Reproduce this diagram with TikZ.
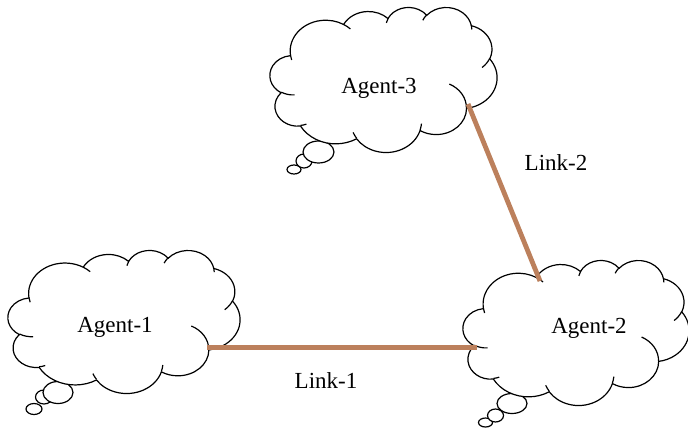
\documentclass[tikz,border=0pt]{standalone}
\usepackage{fontspec}
\setmainfont{Liberation Serif}
\definecolor{linkc}{RGB}{188,128,92}
\tikzset{
  wc/.code args={#1/#2/#3/#4}{%
    \pgfmathsetmacro\wcts{atan2((#1)*sin(#3),(#2)*cos(#3))}%
    \pgfmathsetmacro\wcte{atan2((#1)*sin((#3)+(#4)),(#2)*cos((#3)+(#4)))}%
    \pgfmathsetmacro\wctd{\wcte-\wcts}%
    \pgfmathsetmacro\wctd{((#4)>0)&&(\wctd<0)?\wctd+360:((((#4)<0)&&(\wctd>0))?\wctd-360:\wctd)}%
    \edef\wctmp{\noexpand\pgfkeysalso{x radius=#1,y radius=#2,start angle=\wcts,delta angle=\wctd}}\wctmp},
  cloudline/.style={draw=black, line width=0.6pt, fill=white},
  innerline/.style={draw=black, line width=0.6pt},
  bubble/.style={draw=black, line width=0.6pt, fill=white},
  link/.style={draw=linkc, line width=2.4pt},
  lbl/.style={font=\fontsize{11.5}{14}\selectfont, inner sep=0pt}
}
\newcommand\wordcloud[4]{%
 \begin{scope}[shift={(#1,#2)}, xscale=#3/432, yscale=#4/432]
  \path[cloudline] (39,143.70)
    arc[wc=67.53/91.90/-190.48748/123.78053]
    arc[wc=53.33/72.67/-144.10238/89.94523]
    arc[wc=43.65/59.45/-145.80792/99.72302]
    arc[wc=48.57/65.95/-130.98607/117.24173]
    arc[wc=53.33/72.73/-78.70888/109.02692]
    arc[wc=67.75/92.20/-46.26725/130.269]
    arc[wc=57.85/78.67/0.62502/114.03333]
    arc[wc=67.52/92.15/22.4516/115.17255]
    arc[wc=77.20/105.43/66.24263/75.71102]
    arc[wc=43.60/59.18/-274.94208/146.73557]
    arc[wc=43.45/59.45/-246.8285/152.51885] -- cycle;
  \path[innerline]
    (46.93,261.77) arc[wc=43.45/59.45/86.742/26.4295]
    (69.28,348.99) arc[wc=43.60/59.18/73.61047/11.44747]
    (164.78,390.90) arc[wc=67.52/92.15/137.62415/14.0811]
    (288.27,347.51) arc[wc=67.52/92.15/6.45327/15.99835]
    (341.29,229.54) arc[wc=57.85/78.67/-70.29235/70.91737]
    (417.98,153.54) arc[wc=53.33/72.73/30.31803/27.7515]
    (383.24,54.26) arc[wc=48.57/65.95/-13.74433/14.8589]
    (290.78,39.52) arc[wc=48.57/65.95/-149.18145/18.19537]
    (221.41,47.20) arc[wc=43.65/59.45/-163.49427/17.68635]
    (140.00,51.92) arc[wc=67.53/91.90/-66.70695/12.31935]
    (41.27,157.89) arc[wc=67.53/91.90/157.65435/11.85817];
 \end{scope}}
\begin{document}
\begin{tikzpicture}[x=0.5pt,y=-0.5pt]
\useasboundingbox (0,0) rectangle (688,428);
% thought bubbles
\draw[bubble] (294,169.5) ellipse [x radius=7, y radius=4.5];
\draw[bubble] (304,161) ellipse [x radius=8, y radius=7];
\draw[bubble] (318.5,152) ellipse [x radius=15.5, y radius=11];
\draw[bubble] (34,409) ellipse [x radius=8, y radius=5.5];
\draw[bubble] (44,397) ellipse [x radius=8.5, y radius=7];
\draw[bubble] (58,392.5) ellipse [x radius=15, y radius=11];
\draw[bubble] (485.5,422.5) ellipse [x radius=7, y radius=4.5];
\draw[bubble] (495.5,415.5) ellipse [x radius=8, y radius=6.5];
\draw[bubble] (512,403.5) ellipse [x radius=15, y radius=10];
% clouds
\wordcloud{270}{7}{227}{145}
\wordcloud{8}{250}{232}{143}
\wordcloud{463}{260}{226}{145}
% labels
\node[lbl] (a3) at (379,88) {Agent-3};
\node[lbl] (a1) at (115,327) {Agent-1};
\node[lbl] (a2) at (589,328) {Agent-2};
% link ends on the cloud outlines
\coordinate (a1e) at (207,347.5);
\coordinate (a2w) at (477,347.5);
\coordinate (a3s) at (468,104);
\coordinate (a2n) at (540,281);
\draw[link] (a1e) -- (a2w);
\draw[link] (a3s) -- (a2n);
\node[lbl] (l1) at (326,381) {Link-1};
\node[lbl] (l2) at (556,163) {Link-2};
\end{tikzpicture}
\end{document}
